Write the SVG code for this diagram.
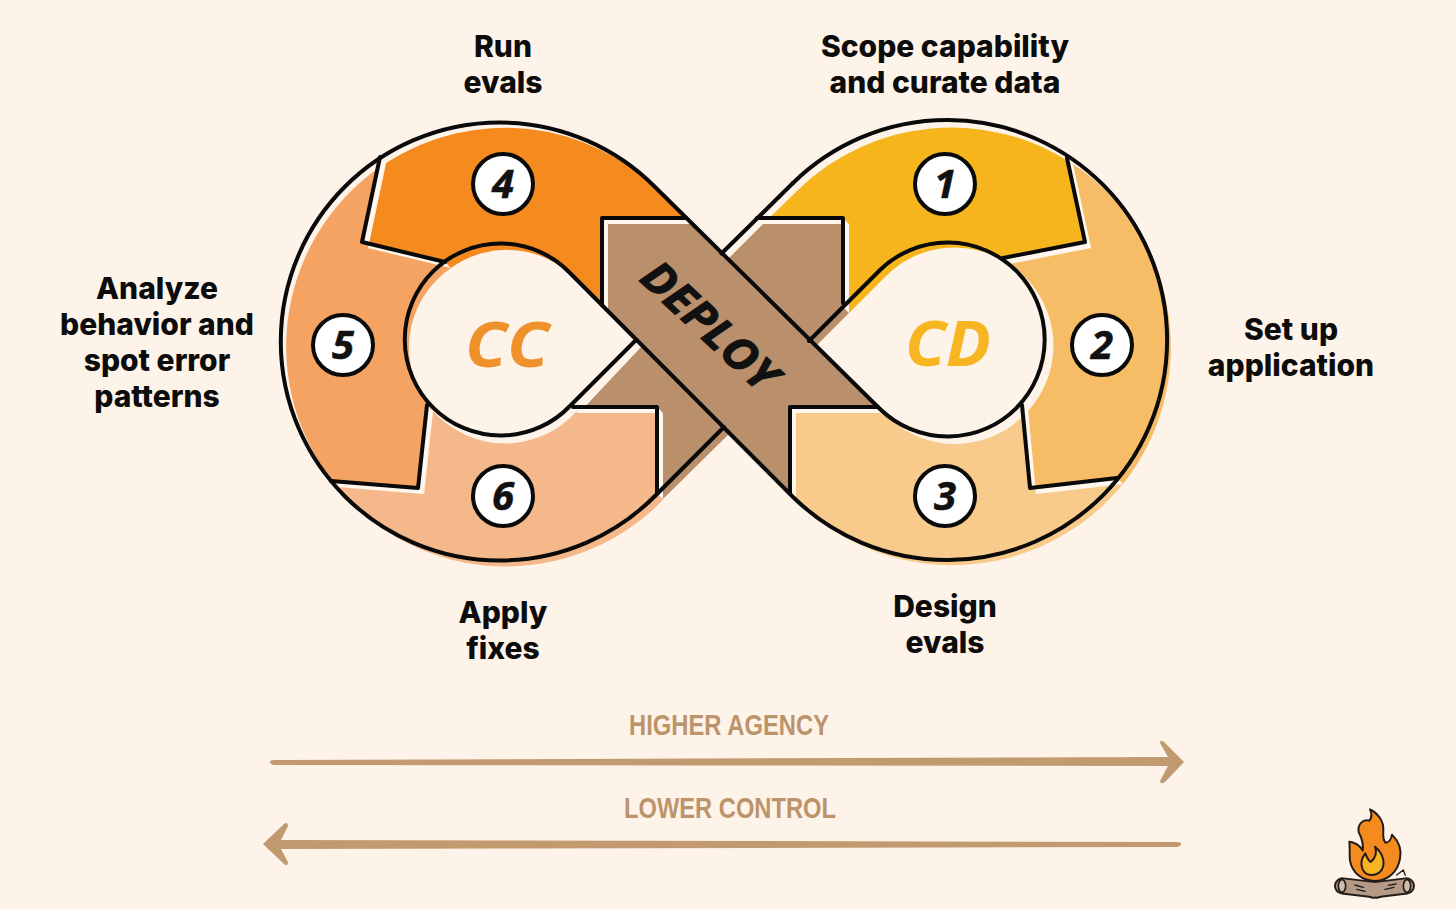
<svg xmlns="http://www.w3.org/2000/svg" width="1456" height="909" viewBox="0 0 1456 909">
<style>
.shift{transform:translate(6px,6px)}
.lbl{font-family:"Inter","Liberation Sans",sans-serif;font-weight:800;font-size:30px;fill:#0c0c0c;text-anchor:middle}
.disc{fill:#fff;stroke:#0a0a0a;stroke-width:4}
.num{font-family:"Open Sans","Liberation Sans",sans-serif;font-weight:700;font-style:italic;font-size:40px;fill:#111;stroke:#111;stroke-width:.6;text-anchor:middle}
.mark{font-family:"Open Sans","Liberation Sans",sans-serif;font-weight:700;font-style:italic;text-anchor:middle;stroke-linejoin:round}
.ax{font-family:"Liberation Sans",sans-serif;font-weight:700;font-size:30px;fill:#bc946c}
.line{fill:none;stroke:#0a0a0a;stroke-width:4;stroke-linejoin:round;stroke-linecap:round}
.gap{fill:#fff6ee}
.tan{fill:#c29a70}
</style>
<rect width="1456" height="909" fill="#fef3e9"/>

<g id="node-4">
<path class="shift" fill="#f58a1f" d="M380 157A219 219 0 0 1 655 187L686 218H602V305L570 273A96 96 0 0 0 445 262L362 242Z"/>
<circle class="disc" cx="503" cy="184" r="30"/><text class="num" x="503" y="198">4</text>
<text class="lbl" x="503" y="57">Run</text><text class="lbl" x="503" y="93">evals</text>
</g>
<g id="node-5">
<path class="shift" fill="#f4a362" d="M380 157L362 242L445 262A96 96 0 0 0 427 405L418 488L331 481A219 219 0 0 1 380 157Z"/>
<circle class="disc" cx="343" cy="345" r="30"/><text class="num" x="343" y="359">5</text>
<text class="lbl" x="157" y="299">Analyze</text><text class="lbl" x="157" y="335">behavior and</text><text class="lbl" x="157" y="371">spot error</text><text class="lbl" x="157" y="407">patterns</text>
</g>
<g id="node-6">
<path class="shift" fill="#f5b88b" d="M331 481L418 488L427 405A96 96 0 0 0 570 406L573 407H657V493L655 496A219 219 0 0 1 331 481Z"/>
<circle class="disc" cx="503" cy="496" r="30"/><text class="num" x="503" y="510">6</text>
<text class="lbl" x="503" y="623">Apply</text><text class="lbl" x="503" y="659">fixes</text>
</g>
<g id="node-1">
<path class="shift" fill="#f6b51d" d="M793 183A220 220 0 0 1 1067 158L1085 242L1003 258A97 97 0 0 0 880 270L843 307V218H757Z"/>
<circle class="disc" cx="945" cy="184" r="30"/><text class="num" x="945" y="198">1</text>
<text class="lbl" x="945" y="57">Scope capability</text><text class="lbl" x="945" y="93">and curate data</text>
</g>
<g id="node-2">
<path class="shift" fill="#f7bd66" d="M1067 158A220 220 0 0 1 1117 478L1030 488L1022 405A97 97 0 0 0 1003 258L1085 242Z"/>
<circle class="disc" cx="1102" cy="345" r="30"/><text class="num" x="1102" y="359">2</text>
<text class="lbl" x="1291" y="340">Set up</text><text class="lbl" x="1291" y="376">application</text>
</g>
<g id="node-3">
<path class="shift" fill="#f8cb8c" d="M790 407H877L880 409A97 97 0 0 0 1022 405L1030 488L1117 478A220 220 0 0 1 793 497L790 493Z"/>
<circle class="disc" cx="945" cy="496" r="30"/><text class="num" x="945" y="510">3</text>
<text class="lbl" x="945" y="617">Design</text><text class="lbl" x="945" y="653">evals</text>
</g>
<g id="node-deploy">
<path class="shift" fill="#b98f6c" d="M602 218H686L721.5 253.5L757 218H843V307L809 341L877 407H790V493L724 427L657 493V407H573L636.5 339.5L602 305Z"/>
<text class="mark" transform="translate(709 327) rotate(43)" font-size="44" fill="#111" stroke="#111" stroke-width="1" textLength="168" lengthAdjust="spacingAndGlyphs" y="14" x="0">DEPLOY</text>
</g>
<g id="node-cc"><text class="mark" x="507" y="367" font-size="62" fill="#f0922b" textLength="84" lengthAdjust="spacingAndGlyphs">CC</text></g>
<g id="node-cd"><text class="mark" x="948" y="366" font-size="62" fill="#f6b521" textLength="86" lengthAdjust="spacingAndGlyphs">CD</text></g>

<g id="connectors">
<path class="gap" d="M380 157L362 242L368 248L386 163ZM362 242L445 262L451 268L368 248ZM427 405L418 488L424 494L433 411ZM418 488L331 481L337 487L424 494ZM602 218H686L692 224H608ZM602 218V305L608 311V224ZM657 407H573L579 413H663ZM657 407V493L663 499V413ZM843 218H757L763 224H849ZM843 218V307L849 313V224ZM1067 158L1085 242L1091 248L1073 164ZM1085 242L1003 258L1009 264L1091 248ZM1022 405L1030 488L1036 494L1028 411ZM1030 488L1117 478L1123 484L1036 494ZM790 407H877L883 413H796ZM790 407V493L796 499V413Z"/>
<path class="line" d="M655 496A219 219 0 1 1 655 187L880 409A97 97 0 1 0 880 270L809 341"/>
<path class="line" d="M793 183A220 220 0 1 1 793 497L570 273A96 96 0 1 0 570 406L636.5 339.5"/>
<path class="line" d="M655 496L724 427M793 183L721.5 253.5"/>
<path class="line" d="M380 157L362 242L445 262M427 405L418 488L331 481M602 305V218H686M573 407H657V493M757 218H843V303M1067 158L1085 242L1003 258M1022 405L1030 488L1117 478M877 407H790V493"/>
</g>

<g id="axis">
<path class="tan" d="M270 762Q270 760 274 760L1168 757L1160 743Q1160 739 1164 742L1184 762L1165 782Q1161 785 1160 781L1168 766L274 765Q270 764 270 762Z"/>
<path class="tan" d="M1181 844Q1181 842 1177 842L281 840L288 826Q288 821 284 824L263 844L284 864Q288 867 288 862L281 849L1177 847Q1181 846 1181 844Z"/>
<text class="ax" x="629" y="735" textLength="200" lengthAdjust="spacingAndGlyphs">HIGHER AGENCY</text>
<text class="ax" x="624" y="818" textLength="212" lengthAdjust="spacingAndGlyphs">LOWER CONTROL</text>
</g>

<g id="campfire" transform="translate(1320 800) scale(.3333)">
<path d="M68 258L170 270" fill="none" stroke="#221d1a" stroke-width="52" stroke-linecap="round"/>
<path d="M259 258L160 270" fill="none" stroke="#221d1a" stroke-width="52" stroke-linecap="round"/>
<path d="M68 258L170 270" fill="none" stroke="#b49a86" stroke-width="40" stroke-linecap="round"/>
<path d="M259 258L160 270" fill="none" stroke="#b49a86" stroke-width="40" stroke-linecap="round"/>
<ellipse cx="66" cy="258" rx="11" ry="19" fill="#d0bcaa" stroke="#221d1a" stroke-width="5"/>
<ellipse cx="261" cy="258" rx="11" ry="19" fill="#d0bcaa" stroke="#221d1a" stroke-width="5"/>
<path d="M105 255L130 262M110 268L135 274M195 268L222 262M205 256L228 252M230 225L250 210L256 226" fill="none" stroke="#221d1a" stroke-width="4" stroke-linecap="round"/>
<path d="M150 28C172 38 192 62 190 92C189 108 188 118 196 128C206 128 214 118 216 104C236 124 246 148 240 176C234 214 204 242 166 243C126 243 96 218 90 182C88 164 90 142 88 125C102 125 122 138 128 152C132 130 124 112 116 96C112 74 128 56 148 62C156 52 156 40 150 28Z" fill="#f58a1f" stroke="#221d1a" stroke-width="6" stroke-linejoin="round"/>
<path d="M165 140C190 160 196 190 186 208C174 230 140 232 128 208C118 186 128 170 136 160C142 176 146 182 152 186C166 176 172 158 165 140Z" fill="#f9b521" stroke="#221d1a" stroke-width="6" stroke-linejoin="round"/>
</g>
</svg>
